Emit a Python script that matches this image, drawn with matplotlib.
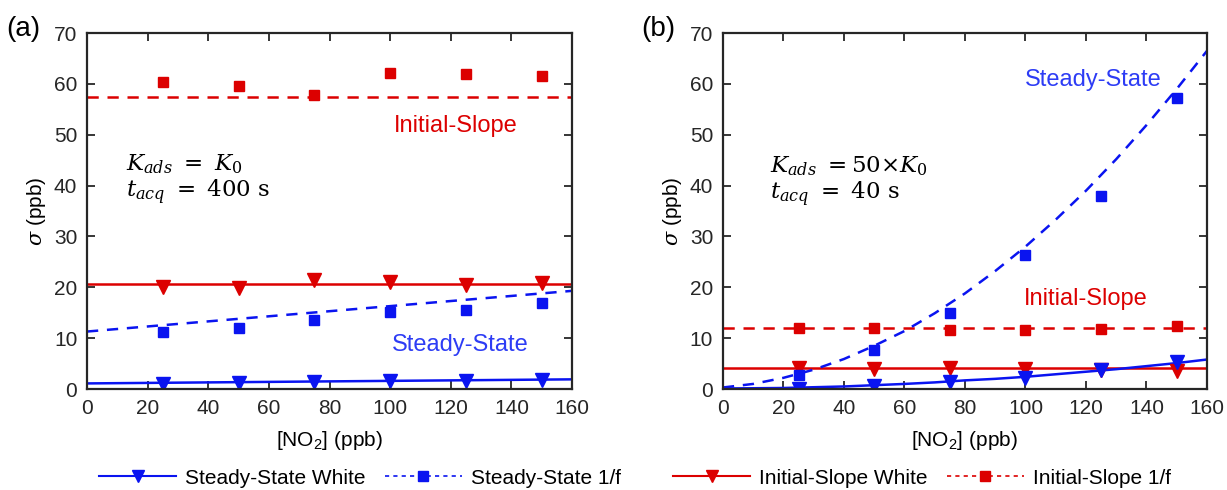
import matplotlib
matplotlib.use('Agg')
import matplotlib.pyplot as plt
from matplotlib.lines import Line2D

plt.rcParams['font.family'] = ['Liberation Sans', 'DejaVu Sans']
plt.rcParams['mathtext.fontset'] = 'dejavuserif'

BLUE = '#0a14f0'
RED = '#dc0000'
BLUE_TXT = '#2d3cf5'

# measured points
no2 = [25, 50, 75, 100, 125, 150]

a_is_f = [60.3, 59.5, 57.8, 62.2, 62.0, 61.5]
a_is_w = [20.0, 19.8, 21.5, 21.0, 20.4, 20.8]
a_ss_f = [11.3, 12.0, 13.6, 15.2, 15.6, 16.9]
a_ss_w = [1.0, 1.2, 1.4, 1.5, 1.6, 1.8]

b_is_f = [12.0, 12.0, 11.6, 11.6, 11.8, 12.4]
b_is_w = [4.2, 4.0, 4.2, 3.9, 3.8, 3.6]
b_ss_f = [2.7, 7.7, 15.0, 26.3, 38.0, 57.3]
b_ss_w = [0.1, 0.5, 1.3, 2.2, 3.7, 5.4]

# model curves
fit_x = [0, 10, 20, 30, 40, 50, 60, 70, 80, 90, 100, 110, 120, 130, 140, 150, 160]
a_is_f_fit = [57.5] * 17
a_is_w_fit = [20.6] * 17
a_ss_f_fit = [11.3, 11.8, 12.3, 12.8, 13.3, 13.8, 14.3, 14.8, 15.3,
              15.8, 16.3, 16.8, 17.3, 17.8, 18.3, 18.8, 19.3]
a_ss_w_fit = [1.1, 1.15, 1.2, 1.25, 1.3, 1.35, 1.4, 1.45, 1.5,
              1.55, 1.6, 1.65, 1.7, 1.75, 1.8, 1.85, 1.9]
b_is_f_fit = [12.0] * 17
b_is_w_fit = [4.1] * 17
b_ss_f_fit = [0.3, 1.0, 2.2, 3.8, 5.9, 8.5, 11.4, 14.9, 18.8,
              23.2, 28.0, 33.3, 39.0, 45.2, 51.9, 59.0, 66.5]
b_ss_w_fit = [0.1, 0.15, 0.2, 0.35, 0.5, 0.75, 1.0, 1.3, 1.7,
              2.0, 2.4, 2.9, 3.4, 3.9, 4.5, 5.1, 5.8]

fig = plt.figure(figsize=(12.27, 4.9), dpi=100)
ax1 = fig.add_axes([0.0709, 0.2061, 0.3953, 0.7265])
ax2 = fig.add_axes([0.5892, 0.2061, 0.3945, 0.7265])


def panel(ax, isf, isw, ssf, ssw, isf_fit, isw_fit, ssf_fit, ssw_fit):
    ax.plot(fit_x, isf_fit, color=RED, lw=1.8, dashes=(4.5, 3.5))
    ax.plot(fit_x, isw_fit, '-', color=RED, lw=1.8)
    ax.plot(fit_x, ssf_fit, color=BLUE, lw=1.8, dashes=(4.5, 3.5))
    ax.plot(fit_x, ssw_fit, '-', color=BLUE, lw=1.8)
    ax.plot(no2, isf, 's', color=RED, ms=7.5)
    ax.plot(no2, isw, 'v', color=RED, ms=9.5)
    ax.plot(no2, ssf, 's', color=BLUE, ms=7.5)
    ax.plot(no2, ssw, 'v', color=BLUE, ms=9.5)
    ax.set_xlim(0, 160)
    ax.set_ylim(0, 70)
    ax.set_xticks(range(0, 161, 20))
    ax.set_yticks(range(0, 71, 10))
    ax.tick_params(direction='in', top=True, right=True, labelsize=15,
                   length=6, width=1.3, colors='#262626', pad=7)
    for s in ax.spines.values():
        s.set_linewidth(1.6)
        s.set_color('#262626')
    ax.set_xlabel('[NO$_\\mathregular{2}$] (ppb)', fontsize=15, labelpad=8)
    ax.set_ylabel('$\\sigma$ (ppb)', fontsize=15, labelpad=4)


panel(ax1, a_is_f, a_is_w, a_ss_f, a_ss_w,
      a_is_f_fit, a_is_w_fit, a_ss_f_fit, a_ss_w_fit)
panel(ax2, b_is_f, b_is_w, b_ss_f, b_ss_w,
      b_is_f_fit, b_is_w_fit, b_ss_f_fit, b_ss_w_fit)

ax1.text(121.5, 51.7, 'Initial-Slope', color=RED, fontsize=17, ha='center', va='center')
ax1.text(123, 8.7, 'Steady-State', color=BLUE_TXT, fontsize=17, ha='center', va='center')
ax1.text(13, 44.2, '$K_{ads}\\ =\\ K_0$', fontsize=16.5, va='center')
ax1.text(13, 38.6, '$t_{acq}\\ =\\ 400\\ \\mathrm{s}$', fontsize=16.5, va='center')

ax2.text(122.4, 60.8, 'Steady-State', color=BLUE_TXT, fontsize=17, ha='center', va='center')
ax2.text(120, 17.7, 'Initial-Slope', color=RED, fontsize=17, ha='center', va='center')
ax2.text(15.6, 43.8, '$K_{ads}\\ = 50{\\times}K_0$', fontsize=16.5, va='center')
ax2.text(15.6, 38.3, '$t_{acq}\\ =\\ 40\\ \\mathrm{s}$', fontsize=16.5, va='center')

fig.text(0.005, 0.927, '(a)', fontsize=20)
fig.text(0.523, 0.927, '(b)', fontsize=20)

labels = ['Steady-State White', 'Steady-State 1/f', 'Initial-Slope White', 'Initial-Slope 1/f']
handles = [
    Line2D([], [], color=BLUE, ls='-', marker='v', ms=9, lw=1.5),
    Line2D([], [], color=BLUE, ls=(0, (2.5, 2.5)), marker='s', ms=6.5, lw=1.2),
    Line2D([], [], color=RED, ls='-', marker='v', ms=9, lw=1.5),
    Line2D([], [], color=RED, ls=(0, (2.5, 2.5)), marker='s', ms=6.5, lw=1.2),
]
leg_kw = dict(loc='center left', ncol=2, frameon=False, fontsize=15,
              handlelength=3.7, columnspacing=0.9, handletextpad=0.45,
              borderpad=0, borderaxespad=0)
fig.legend(handles[:2], labels[:2], bbox_to_anchor=(99 / 1227, 0.024), **leg_kw)
fig.legend(handles[2:], labels[2:], bbox_to_anchor=(673 / 1227, 0.024), **leg_kw)

fig.savefig('out.png', dpi=100)
